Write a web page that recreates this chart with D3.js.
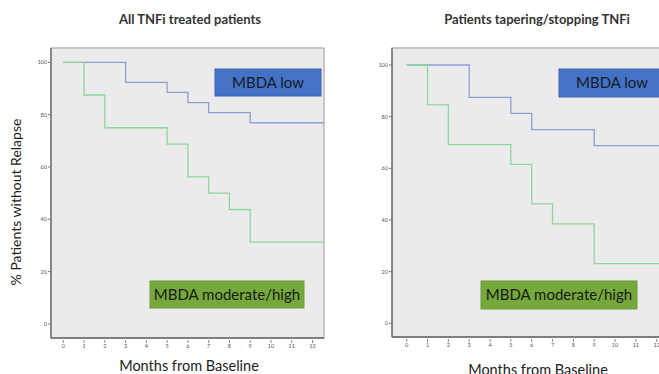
<!DOCTYPE html>
<html>
<head>
<meta charset="utf-8">
<script src="https://cdn.jsdelivr.net/npm/d3@7"></script>
<style>
  body { margin: 0; background: #fff; }
  svg { display: block; font-family: Lato, "Open Sans", sans-serif; }
</style>
</head>
<body>
<svg id="chart" width="659" height="374"></svg>
<script>
// months on the x axis
var months = [0, 1, 2, 3, 4, 5, 6, 7, 8, 9, 10, 11, 12];
var yTicks = [0, 20, 40, 60, 80, 100];

// all TNFi treated patients
var allLowTimes = [0, 3, 5, 6, 7, 9, 12.6];
var allLowSurv = [100, 92.3, 88.5, 84.6, 80.8, 76.9, 76.9];
var allHighTimes = [0, 1, 2, 5, 6, 7, 8, 9, 12.6];
var allHighSurv = [100, 87.5, 75, 68.75, 56.25, 50, 43.75, 31.25, 31.25];

// patients tapering/stopping TNFi
var tapLowTimes = [0, 3, 5, 6, 9, 13];
var tapLowSurv = [100, 87.5, 81.25, 75, 68.75, 68.75];
var tapHighTimes = [0, 1, 2, 5, 6, 7, 9, 13];
var tapHighSurv = [100, 84.6, 69.2, 61.5, 46.2, 38.5, 23.1, 23.1];

var svg = d3.select("#chart");

function panel(p) {
  var g = svg.append("g");
  var x = d3.scaleLinear().domain([0, 12]).range([p.x0, p.x12]);
  var y = d3.scaleLinear().domain([0, 100]).range([p.y0, p.y100]);

  var clipId = "clip" + p.id;
  g.append("clipPath").attr("id", clipId)
    .append("rect")
    .attr("x", p.left).attr("y", p.top)
    .attr("width", p.right - p.left).attr("height", p.bottom - p.top);

  // plot background + frame
  g.append("rect")
    .attr("x", p.left).attr("y", p.top)
    .attr("width", p.right - p.left).attr("height", p.bottom - p.top)
    .style("fill", "#ebebeb")
    .style("stroke", "#a8a8a8")
    .style("stroke-width", 1.2);

  // axis lines
  g.append("line").attr("x1", p.left).attr("x2", p.left)
    .attr("y1", p.top).attr("y2", p.bottom)
    .style("stroke", "#666").style("stroke-width", 1.3);
  g.append("line").attr("x1", p.left).attr("x2", p.right)
    .attr("y1", p.bottom).attr("y2", p.bottom)
    .style("stroke", "#666").style("stroke-width", 1.3);

  // y ticks
  var yt = g.selectAll(".yt").data(yTicks).enter().append("g");
  yt.append("line")
    .attr("x1", p.left - 3).attr("x2", p.left)
    .attr("y1", function(d) { return y(d); })
    .attr("y2", function(d) { return y(d); })
    .style("stroke", "#777");
  yt.append("text")
    .attr("x", p.left - 4)
    .attr("y", function(d) { return y(d) + 2; })
    .attr("text-anchor", "end")
    .style("font-size", "5.5px")
    .style("fill", "#555")
    .text(function(d) { return d; });

  // x ticks
  var xt = g.selectAll(".xt").data(months).enter().append("g");
  xt.append("line")
    .attr("x1", function(d) { return x(d); })
    .attr("x2", function(d) { return x(d); })
    .attr("y1", p.bottom + 2).attr("y2", p.bottom + 5)
    .style("stroke", "#888");
  xt.append("text")
    .attr("x", function(d) { return x(d); })
    .attr("y", p.bottom + 10)
    .attr("text-anchor", "middle")
    .style("font-size", "5.5px")
    .style("fill", "#555")
    .text(function(d) { return d; });

  var line = d3.line()
    .x(function(d) { return x(d[0]); })
    .y(function(d) { return y(d[1]); })
    .curve(d3.curveStepAfter);

  var curves = g.append("g").attr("clip-path", "url(#" + clipId + ")");
  curves.append("path")
    .datum(d3.zip(p.lowT, p.lowS))
    .attr("d", line)
    .style("fill", "none").style("stroke", "#8e9fd6").style("stroke-width", 1.3);
  curves.append("path")
    .datum(d3.zip(p.highT, p.highS))
    .attr("d", line)
    .style("fill", "none").style("stroke", "#8fd69a").style("stroke-width", 1.3);

  // label boxes
  g.append("rect")
    .attr("x", p.lowBox[0]).attr("y", p.lowBox[1])
    .attr("width", p.lowBox[2]).attr("height", p.lowBox[3])
    .style("fill", "#4472c4").style("stroke", "#3a66b5");
  g.append("text")
    .attr("x", p.lowBox[0] + p.lowBox[2] / 2)
    .attr("y", p.lowBox[1] + p.lowBox[3] / 2 + 5)
    .attr("text-anchor", "middle")
    .style("font-size", "15px").style("fill", "#151a28")
    .text("MBDA low");
  g.append("rect")
    .attr("x", p.highBox[0]).attr("y", p.highBox[1])
    .attr("width", p.highBox[2]).attr("height", p.highBox[3])
    .style("fill", "#76a83e").style("stroke", "#6c9c38");
  g.append("text")
    .attr("x", p.highBox[0] + p.highBox[2] / 2)
    .attr("y", p.highBox[1] + p.highBox[3] / 2 + 5)
    .attr("text-anchor", "middle")
    .style("font-size", "15px").style("fill", "#151c10")
    .text("MBDA moderate/high");

  // titles
  g.append("text")
    .attr("x", p.titleX).attr("y", 24)
    .attr("text-anchor", "middle")
    .style("font-size", "13px").style("font-weight", "bold").style("fill", "#333")
    .text(p.title);
  g.append("text")
    .attr("x", p.xlabX).attr("y", p.xlabY)
    .attr("text-anchor", "middle")
    .style("font-size", "14.5px").style("fill", "#222")
    .text("Months from Baseline");
}

panel({
  id: 1, title: "All TNFi treated patients", titleX: 190,
  left: 51, right: 324, top: 48, bottom: 338,
  x0: 63.3, x12: 312.5, y0: 324, y100: 62.3,
  lowT: allLowTimes, lowS: allLowSurv, highT: allHighTimes, highS: allHighSurv,
  lowBox: [215, 69, 106, 27], highBox: [150, 281, 154, 27],
  xlabX: 189, xlabY: 371
});

panel({
  id: 2, title: "Patients tapering/stopping TNFi", titleX: 537,
  left: 392, right: 680, top: 48, bottom: 337,
  x0: 406.7, x12: 656.7, y0: 323.3, y100: 65,
  lowT: tapLowTimes, lowS: tapLowSurv, highT: tapHighTimes, highS: tapHighSurv,
  lowBox: [559, 69, 106, 28], highBox: [481, 281, 156, 28],
  xlabX: 538, xlabY: 375
});

// y axis title (left panel only)
svg.append("text")
  .attr("transform", "translate(21,202) rotate(-90)")
  .attr("text-anchor", "middle")
  .style("font-size", "14px").style("fill", "#222")
  .text("% Patients without Relapse");
</script>
</body>
</html>
